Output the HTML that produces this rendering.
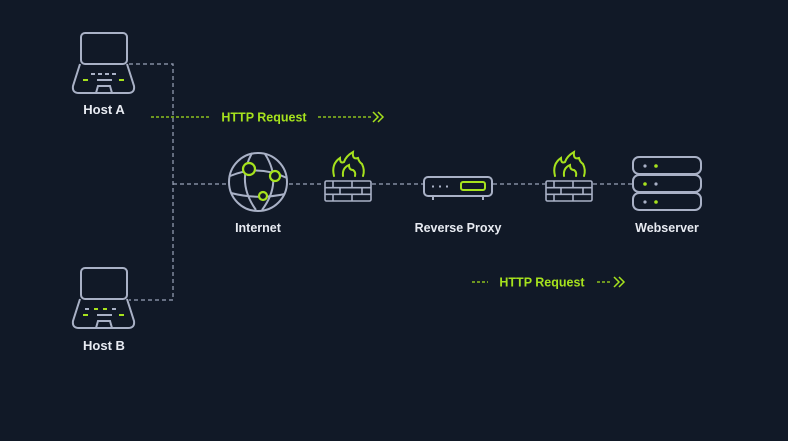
<!DOCTYPE html>
<html><head><meta charset="utf-8"><style>
html,body{margin:0;padding:0;background:#111927;}
svg{display:block}
text{font-family:"Liberation Sans",sans-serif;font-weight:bold;}
</style></head><body>
<svg width="788" height="441" viewBox="0 0 788 441" xmlns="http://www.w3.org/2000/svg">
<rect width="788" height="441" fill="#111927"/>
<g fill="none" stroke="#9aa3b8" stroke-width="1.2" stroke-dasharray="4,3">
<path d="M129 64H173V300H129"/>
<path d="M173 184H228"/>
<path d="M289 184H324"/>
<path d="M372 184H423"/>
<path d="M493 184H545"/>
<path d="M593 184H632"/>
</g>
<!-- laptops -->
<g id="lapA" fill="none" stroke="#a9b1c6" stroke-width="2">
<rect x="81" y="33" width="46" height="31" rx="4"/>
<path d="M80 64 L73 86 Q72 93 79 93 L128 93 Q135 93 134 86 L127 64"/>
<path d="M96 93 L98 86 L110 86 L112 93"/>
<path d="M91 74H95M98 74H102M105 74H109M112 74H116"/>
<path d="M97 80H112"/>
</g>
<g fill="none" stroke="#a6e21d" stroke-width="2"><path d="M83 80H88M119 80H124"/></g>
<g fill="none" stroke="#a9b1c6" stroke-width="2">
<rect x="81" y="268" width="46" height="31" rx="4"/>
<path d="M80 299 L73 321 Q72 328 79 328 L128 328 Q135 328 134 321 L127 299"/>
<path d="M96 328 L98 321 L110 321 L112 328"/>
<path d="M85 309H89M112 309H116"/>
<path d="M97 315H112"/>
</g>
<g fill="none" stroke="#a6e21d" stroke-width="2"><path d="M83 315H88M119 315H124M94 309H98M103 309H107"/></g>
<text x="104" y="114" fill="#e8ebf2" font-size="13" text-anchor="middle">Host A</text>
<text x="104" y="350" fill="#e8ebf2" font-size="13" text-anchor="middle">Host B</text>
<!-- globe -->
<g fill="none" stroke="#a9b1c6" stroke-width="2">
<circle cx="258" cy="182" r="29"/>
<path d="M230 176 Q258 164 287 178"/>
<path d="M231 193 Q258 200 285 194"/>
<path d="M252 153 Q236 182 256 210"/>
<path d="M265 154 Q283 182 262 210"/>
</g>
<g fill="#111927" stroke="#a6e21d" stroke-width="2.2">
<circle cx="249" cy="169" r="6"/><circle cx="275" cy="176" r="5"/><circle cx="263" cy="196" r="4"/>
</g>
<text x="258" y="232" fill="#e8ebf2" font-size="12.5" text-anchor="middle">Internet</text>
<!-- firewalls -->
<g id="fw" fill="none" stroke="#a9b1c6" stroke-width="1.6">
<rect x="325" y="181" width="46" height="20" rx="1.5"/>
<path d="M325 187.7H371M325 194.3H371M333 181V187.7M352 181V187.7M340 187.7V194.3M362 187.7V194.3M333 194.3V201M352 194.3V201"/>
</g>
<g fill="none" stroke="#a6e21d" stroke-width="2" stroke-linecap="round">
<path d="M334 176 Q331 164 340 158 Q340 164 344 162 Q346 156 353 152 Q352 160 358 158 Q359 162 362 164 Q365 170 363 176"/>
<path d="M343 176 Q342 168 349 165 Q349 170 353 170 Q356 172 355 176"/>
</g>
<g transform="translate(221,0)">
<g fill="none" stroke="#a9b1c6" stroke-width="1.6">
<rect x="325" y="181" width="46" height="20" rx="1.5"/>
<path d="M325 187.7H371M325 194.3H371M333 181V187.7M352 181V187.7M340 187.7V194.3M362 187.7V194.3M333 194.3V201M352 194.3V201"/>
</g>
<g fill="none" stroke="#a6e21d" stroke-width="2" stroke-linecap="round">
<path d="M334 176 Q331 164 340 158 Q340 164 344 162 Q346 156 353 152 Q352 160 358 158 Q359 162 362 164 Q365 170 363 176"/>
<path d="M343 176 Q342 168 349 165 Q349 170 353 170 Q356 172 355 176"/>
</g>
</g>
<!-- proxy -->
<g fill="none" stroke="#a9b1c6" stroke-width="2">
<rect x="424" y="177" width="68" height="19" rx="4"/>
<path d="M433 196V200M483 196V200"/>
<path d="M433 185.5V187.5M440 185.5V187.5M447 185.5V187.5"/>
</g>
<rect x="461" y="182" width="24" height="8" rx="2" fill="none" stroke="#a6e21d" stroke-width="2"/>
<text x="458" y="232" fill="#e8ebf2" font-size="12.5" text-anchor="middle">Reverse Proxy</text>
<!-- server -->
<g fill="none" stroke="#a9b1c6" stroke-width="2">
<rect x="633" y="157" width="68" height="17" rx="6"/>
<rect x="633" y="175" width="68" height="17" rx="6"/>
<rect x="633" y="193" width="68" height="17" rx="6"/>
</g>
<g fill="#a9b1c6"><circle cx="645" cy="166" r="1.6"/><circle cx="656" cy="184" r="1.6"/><circle cx="645" cy="202" r="1.6"/></g>
<g fill="#a6e21d"><circle cx="656" cy="166" r="1.8"/><circle cx="645" cy="184" r="1.8"/><circle cx="656" cy="202" r="1.8"/></g>
<text x="667" y="232" fill="#e8ebf2" font-size="12.5" text-anchor="middle">Webserver</text>
<!-- HTTP requests -->
<g fill="none" stroke="#a6e21d" stroke-width="1.2">
<path d="M151 117H210M318 117H371" stroke-dasharray="3,2"/>
<path d="M472 282H488M597 282H612" stroke-dasharray="3,2"/>
</g>
<g fill="none" stroke="#a6e21d" stroke-width="1.5">
<path d="M373 112L378 117L373 122M378 112L383 117L378 122"/>
<path d="M614 277L619 282L614 287M619 277L624 282L619 287"/>
</g>
<text x="264" y="121.5" fill="#a6e21d" font-size="12.5" text-anchor="middle">HTTP Request</text>
<text x="542" y="286.5" fill="#a6e21d" font-size="12.5" text-anchor="middle">HTTP Request</text>
</svg>
</body></html>
